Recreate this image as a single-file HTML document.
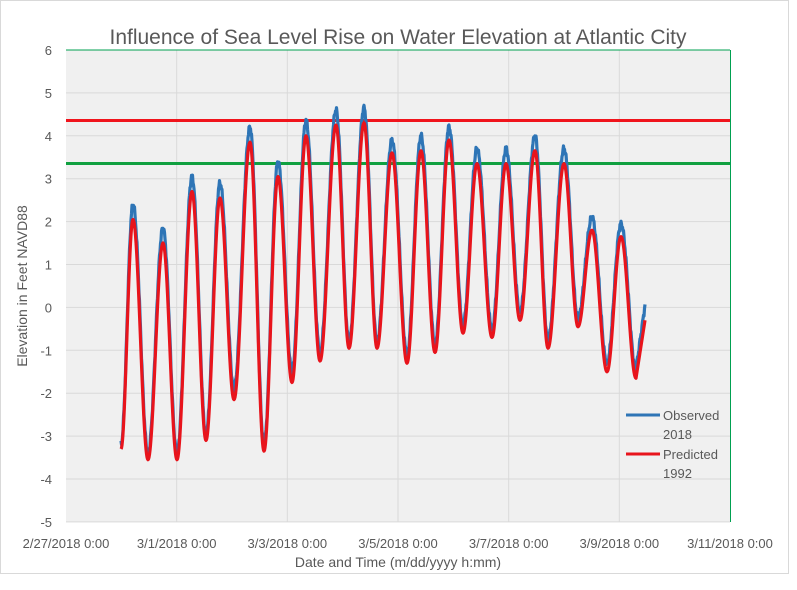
<!DOCTYPE html>
<html><head><meta charset="utf-8"><style>
body{margin:0;background:#fff;}
text{font-family:"Liberation Sans",sans-serif;fill:#595959;}
</style></head><body>
<svg id="s" width="797" height="585" xmlns="http://www.w3.org/2000/svg">
<rect x="0" y="0" width="797" height="585" fill="#fff"/>
<rect x="0.5" y="0.5" width="788" height="573" fill="#fff" stroke="#d9d9d9"/>
<rect x="66" y="50" width="664" height="472" fill="#f0f0f0"/>
<g id="grid" stroke="#d9d9d9" stroke-width="1"></g>
<line x1="66" y1="50" x2="730" y2="50" stroke="#00a050" stroke-width="1"/>
<line x1="730.5" y1="50" x2="730.5" y2="522" stroke="#00a050" stroke-width="1"/>
<line x1="66" y1="120.5" x2="730" y2="120.5" stroke="#f0141c" stroke-width="3"/>
<line x1="66" y1="163.5" x2="730" y2="163.5" stroke="#10a040" stroke-width="3"/>
<path id="obs" fill="none" stroke="#2e75b6" stroke-width="3.2" stroke-linejoin="round"/>
<path id="pre" fill="none" stroke="#e8141c" stroke-width="3.2" stroke-linejoin="round"/>
<g id="lab" font-size="13"></g>
<text x="398" y="44" font-size="21" text-anchor="middle">Influence of Sea Level Rise on Water Elevation at Atlantic City</text>
<text x="398" y="567" font-size="14" text-anchor="middle">Date and Time (m/dd/yyyy h:mm)</text>
<text transform="translate(27,286) rotate(-90)" font-size="14" text-anchor="middle">Elevation in Feet NAVD88</text>
<line x1="626" y1="415" x2="660" y2="415" stroke="#2e75b6" stroke-width="3"/>
<line x1="626" y1="454" x2="660" y2="454" stroke="#e8141c" stroke-width="3"/>
<text x="663" y="420" font-size="13">Observed</text>
<text x="663" y="439" font-size="13">2018</text>
<text x="663" y="459" font-size="13">Predicted</text>
<text x="663" y="478" font-size="13">1992</text>
</svg>
<script>
var Y=function(v){return 50+(6-v)*42.9;};
var g=document.getElementById('grid'),lab=document.getElementById('lab'),ns='http://www.w3.org/2000/svg';
for(var v=-5;v<=5;v++){var l=document.createElementNS(ns,'line');l.setAttribute('x1',66);l.setAttribute('x2',730);l.setAttribute('y1',Y(v));l.setAttribute('y2',Y(v));g.appendChild(l);}
var xs=[66,176.7,287.3,398,508.7,619.3,730],dl=['2/27/2018 0:00','3/1/2018 0:00','3/3/2018 0:00','3/5/2018 0:00','3/7/2018 0:00','3/9/2018 0:00','3/11/2018 0:00'];
for(var i=0;i<7;i++){if(i>0&&i<6){var l=document.createElementNS(ns,'line');l.setAttribute('x1',xs[i]);l.setAttribute('x2',xs[i]);l.setAttribute('y1',50);l.setAttribute('y2',522);g.appendChild(l);}
var t=document.createElementNS(ns,'text');t.setAttribute('x',xs[i]);t.setAttribute('y',548);t.setAttribute('text-anchor','middle');t.textContent=dl[i];lab.appendChild(t);}
for(var v=-5;v<=6;v++){var t=document.createElementNS(ns,'text');t.setAttribute('x',52);t.setAttribute('y',Y(v)+5);t.setAttribute('text-anchor','end');t.textContent=v;lab.appendChild(t);}
var E=[[121,-3.3,-3.2],[133,2.05,2.4],[148,-3.55,-3.4],[163,1.5,1.85],[177,-3.55,-3.4],[192,2.7,3.05],[206,-3.1,-2.95],[220,2.55,2.9],[234,-2.15,-1.9],[250,3.85,4.2],[264,-3.35,-3.2],[278,3.05,3.4],[292,-1.75,-1.5],[306,4.0,4.35],[320,-1.25,-1.05],[336,4.25,4.6],[349,-0.95,-0.8],[364,4.3,4.65],[377,-0.95,-0.8],[392,3.6,3.9],[407,-1.3,-1.1],[421,3.65,4.0],[435,-1.05,-0.85],[449,3.9,4.2],[463,-0.6,-0.4],[477,3.35,3.7],[492,-0.7,-0.5],[506,3.35,3.7],[520,-0.3,-0.1],[535,3.65,4.0],[548,-0.95,-0.75],[564,3.35,3.7],[578,-0.45,-0.25],[592,1.8,2.1],[607,-1.5,-1.3],[621,1.65,1.95],[636,-1.65,-1.45],[645,-0.3,0.05]];
function build(idx,noise){var d='';for(var k=0;k<E.length-1;k++){var a=E[k],b=E[k+1];var last=(k==E.length-2);for(var x=a[0];x<=b[0];x+=0.5){var f=(x-a[0])/(b[0]-a[0]);var s=last?f:(1-Math.cos(Math.PI*f))/2;var v=a[idx]+(b[idx]-a[idx])*s;if(noise)v+=Math.sin(x*2.3)*0.05+Math.sin(x*5.1)*0.04;d+=(d?'L':'M')+x.toFixed(1)+' '+Y(v).toFixed(1);}}return d;}
document.getElementById('obs').setAttribute('d',build(2,true));
document.getElementById('pre').setAttribute('d',build(1,false));
</script>
</body></html>
